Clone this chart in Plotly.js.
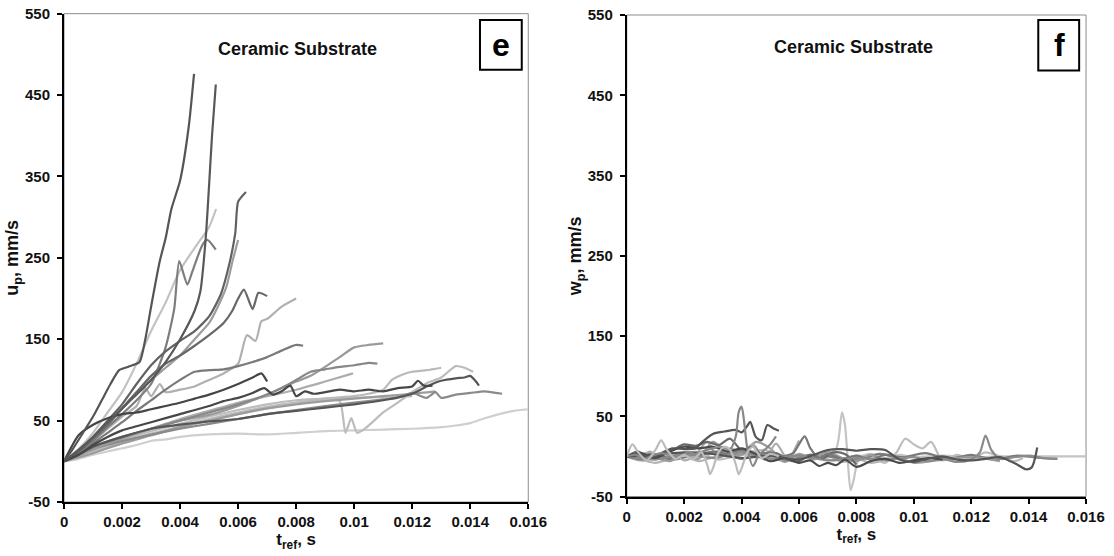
<!DOCTYPE html>
<html>
<head>
<meta charset="utf-8">
<script src="https://cdn.plot.ly/plotly-3.0.1.min.js"></script>
<style>html,body{margin:0;padding:0;background:#fff;}#chart{width:1114px;height:556px;}</style>
</head>
<body>
<div id="chart"></div>
<script>
// ---------- Tick labels ----------
const xTickVals = [0, 0.002, 0.004, 0.006, 0.008, 0.01, 0.012, 0.014, 0.016];
const xTickText = ['0', '0.002', '0.004', '0.006', '0.008', '0.01', '0.012', '0.014', '0.016'];
const yTickVals = [-50, 50, 150, 250, 350, 450, 550];
const yTickText = ['-50', '50', '150', '250', '350', '450', '550'];
const panelTitle = 'Ceramic Substrate';

// ---------- Panel e : u_p (mm/s) vs t_ref (s) ----------
const L1x = [0,0.0003,0.0006,0.001,0.0013,0.0016,0.0019,0.0022,0.0026,0.0028,0.003,0.0033,0.0035,0.0037,0.004,0.0043,0.00448];
const L1y = [0,15,32,55,75,95,112,116,122,150,190,246,274,310,345,412,476];
const L2x = [0,0.0005,0.001,0.0015,0.002,0.0025,0.003,0.0035,0.004,0.0045,0.0047,0.0048,0.0049,0.005,0.0051,0.00523];
const L2y = [0,14,30,48,65,82,100,122,150,185,209,240,282,340,400,463];
const L3x = [0,0.0005,0.001,0.0015,0.002,0.0025,0.003,0.0035,0.004,0.0045,0.005,0.0054,0.0057,0.0059,0.006,0.00627];
const L3y = [0,12,30,50,70,95,118,135,148,160,178,205,243,280,319,331];
const L4x = [0,0.0005,0.001,0.0015,0.002,0.0025,0.003,0.0035,0.004,0.0045,0.005,0.0053,0.0056,0.0058,0.006];
const L4y = [0,10,25,45,65,85,100,115,130,150,170,190,215,245,272];
const L5x = [0,0.0005,0.001,0.0015,0.002,0.0025,0.003,0.0035,0.004,0.0045,0.005,0.0055,0.0058,0.006,0.0062,0.0065,0.0067,0.007];
const L5y = [0,12,28,45,65,85,105,120,130,142,155,170,185,200,211,187,207,203];
const L6x = [0,0.0005,0.001,0.0015,0.002,0.0025,0.003,0.0035,0.004,0.0045,0.005,0.00524];
const L6y = [0,15,35,60,85,120,160,195,235,262,288,310];
const L7x = [0,0.0005,0.001,0.0015,0.002,0.0025,0.003,0.0035,0.004,0.0045,0.005,0.0055,0.006,0.0065,0.007,0.0075,0.008,0.00824];
const L7y = [0,10,22,35,48,62,75,88,100,110,112,113,117,122,128,136,143,142];
const L8x = [0,0.0005,0.001,0.0015,0.002,0.0025,0.0028,0.003,0.0033,0.0035,0.004,0.0045,0.005,0.0055,0.006,0.0063,0.0066,0.0068,0.007,0.0075,0.008];
const L8y = [0,10,25,40,55,68,90,80,95,85,88,92,100,108,120,155,148,172,175,190,200];
const L9x = [0,0.001,0.002,0.003,0.004,0.005,0.006,0.007,0.0075,0.008,0.0085,0.009,0.0095,0.01,0.0105,0.011];
const L9y = [0,15,28,40,50,57,68,82,90,98,105,116,128,140,143,145];
const L10x = [0,0.001,0.002,0.003,0.004,0.005,0.006,0.007,0.0075,0.008,0.0085,0.009,0.0095,0.01,0.0105,0.0108];
const L10y = [0,18,30,40,50,60,70,82,90,100,110,113,116,118,121,120];
const L11x = [0,0.001,0.002,0.003,0.004,0.005,0.006,0.007,0.008,0.009,0.00996];
const L11y = [0,15,28,40,52,62,72,80,88,98,108];
const L12x = [0,0.0005,0.001,0.0015,0.002,0.0025,0.003,0.0035,0.004,0.0045,0.005,0.0055,0.006,0.0065,0.0068,0.007];
const L12y = [0,32,45,53,58,60,64,68,72,77,82,88,95,103,108,98];
const L13x = [0,0.0005,0.001,0.0015,0.002,0.003,0.004,0.005,0.0055,0.006,0.0065,0.0069,0.0072,0.0075,0.0078,0.008,0.0083,0.0086,0.009,0.0095,0.01,0.0105,0.011,0.0115,0.012,0.0122,0.0124,0.0127];
const L13y = [0,8,20,30,38,48,58,68,74,78,84,90,82,86,93,80,86,83,85,88,86,88,86,90,92,99,93,93];
const L14x = [0,0.0005,0.001,0.002,0.003,0.004,0.005,0.006,0.007,0.008,0.009,0.01,0.011,0.012,0.0125,0.013,0.0135,0.0138,0.014,0.0142,0.0143];
const L14y = [0,8,18,30,40,45,49,52,58,62,66,70,75,83,92,99,102,103,105,98,93];
const L15x = [0,0.001,0.002,0.003,0.004,0.005,0.006,0.007,0.008,0.009,0.01,0.011,0.0115,0.012,0.0125,0.0128,0.013,0.0135,0.014,0.0145,0.0151];
const L15y = [0,15,25,33,40,46,52,58,63,68,72,76,78,84,78,85,78,82,84,86,83];
const L16x = [0,0.001,0.002,0.003,0.004,0.005,0.006,0.007,0.008,0.009,0.0095,0.0097,0.0099,0.0101,0.0104,0.011,0.0115,0.012,0.0125,0.013,0.0135,0.0138,0.0141];
const L16y = [0,12,24,34,43,52,60,67,72,75,74,35,53,35,41,60,72,85,96,103,117,115,110];
const L17x = [0,0.001,0.002,0.003,0.004,0.005,0.006,0.007,0.008,0.009,0.01,0.0105,0.011,0.0113,0.0117,0.012,0.0125,0.013];
const L17y = [0,12,22,32,42,50,58,65,72,77,80,83,88,100,107,110,112,115];
const L18x = [0,0.0005,0.001,0.0015,0.002,0.0025,0.003,0.0035,0.004,0.005,0.006,0.007,0.008,0.009,0.01,0.011,0.012,0.013,0.0135,0.014,0.0145,0.015,0.0155,0.016];
const L18y = [0,3,8,12,16,20,25,27,30,33,34,33,35,37,38,39,40,42,44,47,53,58,62,64];
const L19x = [0,0.001,0.002,0.003,0.004,0.005,0.006,0.007,0.008,0.009,0.01,0.011,0.012,0.0128];
const L19y = [0,10,22,32,42,50,58,65,70,74,77,80,83,86];
const L20x = [0,0.001,0.002,0.003,0.004,0.005,0.006,0.007,0.008,0.009,0.01,0.011,0.012];
const L20y = [0,14,26,37,46,55,63,70,75,77,78,79,80];
const L21x = [0,0.0005,0.001,0.0015,0.002,0.0025,0.003,0.0035,0.0038,0.00397,0.00425,0.00442,0.00477,0.00494,0.00523];
const L21y = [0,10,25,42,58,75,95,140,188,246,217,233,266,272,260];

// ---------- Panel f : w_p (mm/s) vs t_ref (s) ----------
const R1x = [0,0.0003,0.0006,0.0009,0.0012,0.0015,0.0018,0.0021,0.0024,0.0027,0.003,0.0033,0.0036,0.0038,0.0039,0.004,0.0041,0.0042,0.0044,0.0046,0.0048,0.005,0.0052];
const R1y = [0,2,-3,1,4,2,-2,5,3,7,10,12,9,25,55,62,40,10,-12,2,8,15,25];
const R2x = [0,0.0004,0.0008,0.0012,0.0016,0.002,0.0024,0.0026,0.003,0.0034,0.0038,0.004,0.0042,0.0043,0.0045,0.0047,0.0049,0.0051,0.0053];
const R2y = [0,3,-2,4,10,9,10,17,28,31,33,30,38,43,24,20,39,35,32];
const R3x = [0,0.0002,0.0004,0.0007,0.001,0.0012,0.0014,0.0017,0.002,0.0023,0.0026,0.0028,0.0029,0.003,0.0032,0.0034,0.0036,0.0038,0.0039,0.004,0.0042,0.0044,0.0047,0.005,0.0053];
const R3y = [0,15,5,-5,8,20,8,-3,2,-4,5,-10,-22,-15,5,12,8,-10,-22,-15,5,12,-2,3,0];
const R4x = [0,0.0005,0.001,0.0015,0.002,0.0025,0.003,0.0035,0.004,0.0045,0.005,0.0054,0.0058,0.006,0.0062,0.0064,0.0067,0.007,0.0075,0.008,0.0085,0.009,0.0095,0.01];
const R4y = [0,-3,2,-2,4,1,6,3,8,2,5,0,4,15,25,10,-2,3,-3,1,-4,2,-2,0];
const R5x = [0,0.0006,0.0012,0.0018,0.0024,0.003,0.0036,0.0042,0.0048,0.0054,0.006,0.0066,0.007,0.0073,0.0075,0.0076,0.0077,0.0078,0.0079,0.0081,0.0085,0.009,0.0095,0.01,0.011,0.012,0.013,0.014,0.015,0.016];
const R5y = [0,2,-3,3,-2,4,-1,2,-3,1,2,-2,3,10,55,40,-5,-42,-30,-2,3,-2,2,-1,1,-1,0,0,0,0];
const R6x = [0,0.0008,0.0016,0.0024,0.0032,0.004,0.0048,0.0056,0.0064,0.0072,0.008,0.0086,0.009,0.0094,0.0097,0.01,0.0103,0.0106,0.011,0.0115,0.012,0.0125,0.013,0.0135,0.0138];
const R6y = [0,4,-2,6,-4,3,8,-3,2,-5,1,-2,-8,5,22,15,10,18,-5,2,-3,5,0,-6,-2];
const R7x = [0,0.001,0.002,0.003,0.004,0.005,0.006,0.007,0.008,0.009,0.01,0.0105,0.011,0.0115,0.012,0.0123,0.0125,0.0127,0.013,0.0135,0.014,0.0145,0.015];
const R7y = [0,-4,3,-2,5,-3,1,-5,-2,-4,-1,-6,-3,-7,-4,5,26,8,-3,-1,1,-2,-3];
const R8x = [0,0.001,0.002,0.003,0.004,0.005,0.006,0.007,0.0075,0.008,0.0085,0.009,0.0095,0.01,0.0105,0.011,0.0115,0.012,0.0125,0.013,0.0133,0.0136,0.0139,0.0141,0.0143];
const R8y = [0,2,5,3,-2,1,-4,8,9,7,9,8,-4,-7,-3,0,-4,-5,-3,-1,-5,-10,-16,-14,11];
const R9x = [0,0.0005,0.001,0.0015,0.002,0.0025,0.003,0.0035,0.004,0.0045,0.005,0.0055,0.006,0.0064,0.0067,0.007,0.0073,0.0076,0.008,0.0085,0.009,0.0095,0.01,0.0105,0.011];
const R9y = [0,4,-2,6,12,10,12,6,10,3,-6,-2,-8,-5,-12,-8,-11,-4,-13,-6,-3,-8,-5,-2,-4];
const R10x = [0,0.0005,0.001,0.0015,0.002,0.0025,0.003,0.0035,0.004,0.0045,0.005,0.0055,0.006,0.0065,0.007,0.0075,0.008,0.0085,0.009,0.0095,0.01,0.011,0.012,0.013];
const R10y = [0,-5,-2,-6,3,-3,18,5,2,18,10,-7,3,-3,6,-2,-6,2,-5,-2,-8,-4,-1,-6];
const R11x = [0,0.0004,0.0008,0.0012,0.0016,0.002,0.0024,0.0028,0.0032,0.0036,0.004,0.0044,0.0048,0.0052,0.0056,0.006,0.0064,0.0068,0.0072,0.0076,0.008];
const R11y = [0,6,-3,3,8,15,13,18,14,22,8,12,-2,4,-4,-6,2,-3,5,3,-10];
const R12x = [0,0.0004,0.0008,0.0012,0.0016,0.002,0.0024,0.0028,0.0032,0.0036,0.004,0.0044,0.0048,0.0052,0.0056,0.006];
const R12y = [0,-3,6,-2,4,-5,2,18,-2,10,5,15,-4,16,-3,20];
const R13x = [0,0.0008,0.0016,0.0024,0.0032,0.004,0.0048,0.0056,0.0064,0.0072,0.008,0.0088,0.0096,0.0104,0.0112,0.012,0.0128,0.0136,0.0144,0.015];
const R13y = [0,3,-4,2,6,-3,4,-5,2,-1,-5,3,-1,4,-3,2,-4,1,-2,-3];
const R14x = [0,0.0005,0.001,0.0015,0.002,0.0025,0.003,0.0035,0.004,0.0045,0.005,0.0055,0.006,0.0065,0.007,0.0075,0.008,0.0085,0.009];
const R14y = [0,-4,-8,-3,2,-6,-1,8,-3,5,-1,-6,2,-4,1,-7,-3,-8,-4];

// ---------- Series lists (data + grey shade) ----------
const leftSeries = [
  [L18x, L18y, '#cfcfcf'], [L20x, L20y, '#bdbdbd'], [L17x, L17y, '#bababa'], [L16x, L16y, '#bcbcbc'],
  [L11x, L11y, '#adadad'], [L19x, L19y, '#9c9c9c'], [L15x, L15y, '#8a8a8a'], [L9x, L9y, '#9a9a9a'],
  [L10x, L10y, '#888888'], [L8x, L8y, '#b0b0b0'], [L6x, L6y, '#c2c2c2'], [L4x, L4y, '#9d9d9d'],
  [L7x, L7y, '#7a7a7a'], [L21x, L21y, '#7d7d7d'], [L5x, L5y, '#686868'], [L3x, L3y, '#626262'],
  [L14x, L14y, '#565656'], [L13x, L13y, '#474747'], [L12x, L12y, '#454545'], [L2x, L2y, '#585858'],
  [L1x, L1y, '#555555']
];
const rightSeries = [
  [R5x, R5y, '#c4c4c4'], [R6x, R6y, '#bdbdbd'], [R14x, R14y, '#b5b5b5'], [R13x, R13y, '#7a7a7a'],
  [R10x, R10y, '#9a9a9a'], [R12x, R12y, '#adadad'], [R11x, R11y, '#6a6a6a'], [R4x, R4y, '#777777'],
  [R7x, R7y, '#8a8a8a'], [R9x, R9y, '#4a4a4a'], [R8x, R8y, '#555555'], [R2x, R2y, '#555555'],
  [R1x, R1y, '#888888'], [R3x, R3y, '#bcbcbc']
];

const traces = [];
leftSeries.forEach(s => traces.push({x: s[0], y: s[1], type: 'scatter', mode: 'lines', xaxis: 'x', yaxis: 'y',
  line: {color: s[2], width: 2.2, shape: 'spline', smoothing: 0.6}, hoverinfo: 'skip'}));
rightSeries.forEach(s => traces.push({x: s[0], y: s[1], type: 'scatter', mode: 'lines', xaxis: 'x2', yaxis: 'y2',
  line: {color: s[2], width: 2.2, shape: 'spline', smoothing: 0.8}, hoverinfo: 'skip'}));

const FONT = 'Liberation Sans, Arial, sans-serif';
const tickFont = {family: FONT, size: 15, color: '#111', weight: 'bold'};
function xAxis(domain) {
  return {domain: domain, range: [0, 0.016], tickmode: 'array', tickvals: xTickVals, ticktext: xTickText,
    showline: true, linecolor: '#000', linewidth: 2, ticks: 'outside', ticklen: 5, tickwidth: 2, tickcolor: '#000',
    showgrid: false, zeroline: false, tickfont: tickFont, fixedrange: true,
    title: {text: 't<sub>ref</sub>, s', font: {family: FONT, size: 17, color: '#111', weight: 'bold'}, standoff: 2}};
}
function yAxis(domain, anchor, label) {
  return {domain: domain, anchor: anchor, range: [-50, 550], tickmode: 'array', tickvals: yTickVals, ticktext: yTickText,
    showline: true, linecolor: '#000', linewidth: 2, ticks: 'outside', ticklen: 5, tickwidth: 2, tickcolor: '#000',
    showgrid: false, zeroline: false, tickfont: tickFont, ticklabelstandoff: 4, fixedrange: true,
    title: {text: label, font: {family: FONT, size: 18, color: '#111', weight: 'bold'}, standoff: 1}};
}

const layout = {
  width: 1114, height: 556, margin: {l: 0, r: 0, t: 0, b: 0},
  paper_bgcolor: '#fff', plot_bgcolor: '#fff', showlegend: false,
  xaxis: Object.assign(xAxis([0.0575, 0.4742]), {anchor: 'y'}),
  yaxis: yAxis([0.0971, 0.9754], 'x', 'u<sub>p</sub>, mm/s'),
  xaxis2: Object.assign(xAxis([0.5626, 0.9749]), {anchor: 'y2'}),
  yaxis2: yAxis([0.1070, 0.9730], 'x2', 'w<sub>p</sub>, mm/s'),
  shapes: [
    {type: 'rect', xref: 'x domain', yref: 'y domain', x0: 0, x1: 1, y0: 0, y1: 1, line: {color: '#8c8c8c', width: 1}, layer: 'below'},
    {type: 'rect', xref: 'x2 domain', yref: 'y2 domain', x0: 0, x1: 1, y0: 0, y1: 1, line: {color: '#8c8c8c', width: 1}, layer: 'below'},
    {type: 'rect', xref: 'x domain', yref: 'y domain', x0: 0.896, x1: 0.986, y0: 0.885, y1: 0.987, line: {color: '#000', width: 2}},
    {type: 'rect', xref: 'x2 domain', yref: 'y2 domain', x0: 0.896, x1: 0.985, y0: 0.8845, y1: 0.9896, line: {color: '#000', width: 2}}
  ],
  annotations: [
    {xref: 'x domain', yref: 'y domain', x: 0.502, y: 0.952, text: panelTitle, showarrow: false,
      font: {family: FONT, size: 18, color: '#111', weight: 'bold'}},
    {xref: 'x2 domain', yref: 'y2 domain', x: 0.4938, y: 0.958, text: panelTitle, showarrow: false,
      font: {family: FONT, size: 18, color: '#111', weight: 'bold'}},
    {xref: 'x domain', yref: 'y domain', x: 0.965, y: 0.977, text: 'e', showarrow: false,
      font: {family: FONT, size: 32, color: '#000', weight: 'bold'}},
    {xref: 'x2 domain', yref: 'y2 domain', x: 0.9595, y: 0.979, text: 'f', showarrow: false,
      font: {family: FONT, size: 32, color: '#000', weight: 'bold'}}
  ]
};

Plotly.newPlot('chart', traces, layout, {staticPlot: true, displayModeBar: false});
</script>
</body>
</html>
